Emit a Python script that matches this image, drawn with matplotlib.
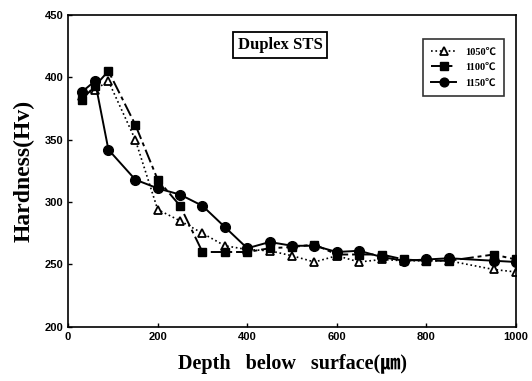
"""Hardness profile of duplex STS after nitriding at three temperatures."""
import matplotlib
matplotlib.use('Agg')
import matplotlib.pyplot as plt

# depth below surface (um)
depth = [30, 60, 90, 150, 200, 250, 300, 350, 400, 450, 500, 550,
         600, 650, 700, 750, 800, 850, 950, 1000]

# hardness (Hv) for each treatment temperature
hv_1050 = [385, 390, 397, 350, 294, 285, 275, 265, 262, 261, 257, 252,
           257, 252, 254, 253, 253, 253, 246, 244]
hv_1100 = [382, 393, 405, 362, 318, 297, 260, 260, 260, 263, 264, 266,
           258, 258, 258, 254, 253, 253, 258, 254]
hv_1150 = [388, 397, 342, 318, 311, 306, 297, 280, 263, 268, 265, 265,
           260, 261, 256, 253, 254, 255, 253, 252]

labels = ['1050\u2103', '1100\u2103', '1150\u2103']

serif = ['Liberation Serif', 'Noto Sans CJK JP', 'DejaVu Serif']
tickfont = {'family': ['Liberation Sans', 'DejaVu Sans'], 'weight': 'bold', 'size': 8}

fig = plt.figure(figsize=(5.32, 3.81), dpi=100)
ax = fig.add_axes([0.128, 0.142, 0.842, 0.819])

ax.plot(depth, hv_1050, ':', color='black', lw=1.2, marker='^', ms=6,
        mfc='white', mec='black', mew=1.3, label=labels[0])
ax.plot(depth, hv_1100, linestyle=(0, (7, 2, 2, 2)), color='black', lw=1.4,
        marker='s', ms=6, mfc='black', mec='black', label=labels[1])
ax.plot(depth, hv_1150, '-', color='black', lw=1.4, marker='o', ms=7,
        mfc='black', mec='black', label=labels[2])

ax.set_xlim(0, 1000)
ax.set_ylim(200, 450)
ax.set_xticks([0, 200, 400, 600, 800, 1000])
ax.set_yticks([200, 250, 300, 350, 400, 450])
ax.tick_params(direction='in', length=3, width=1)
for lab in ax.get_xticklabels() + ax.get_yticklabels():
    lab.set_fontproperties(tickfont)
for s in ax.spines.values():
    s.set_linewidth(1.2)

ax.set_xlabel('Depth   below   surface(\u339b)', family=serif,
              weight='bold', size=14.5, labelpad=9)
ax.set_ylabel('Hardness(Hv)', family=serif, weight='bold', size=17, labelpad=7)

ax.text(0.473, 0.905, 'Duplex STS', transform=ax.transAxes, ha='center',
        va='center', family=serif, weight='bold', size=12,
        bbox=dict(boxstyle='square,pad=0.3', fc='white', ec='black', lw=1.3))

leg = ax.legend(loc='upper right', bbox_to_anchor=(0.985, 0.94), frameon=True,
                fancybox=False, edgecolor='black', handlelength=2.4,
                prop={'family': serif, 'weight': 'bold', 'size': 7.5},
                labelspacing=0.6, borderpad=0.8, markerscale=0.9)
leg.get_frame().set_linewidth(1.2)

fig.savefig('out.png', dpi=100)
